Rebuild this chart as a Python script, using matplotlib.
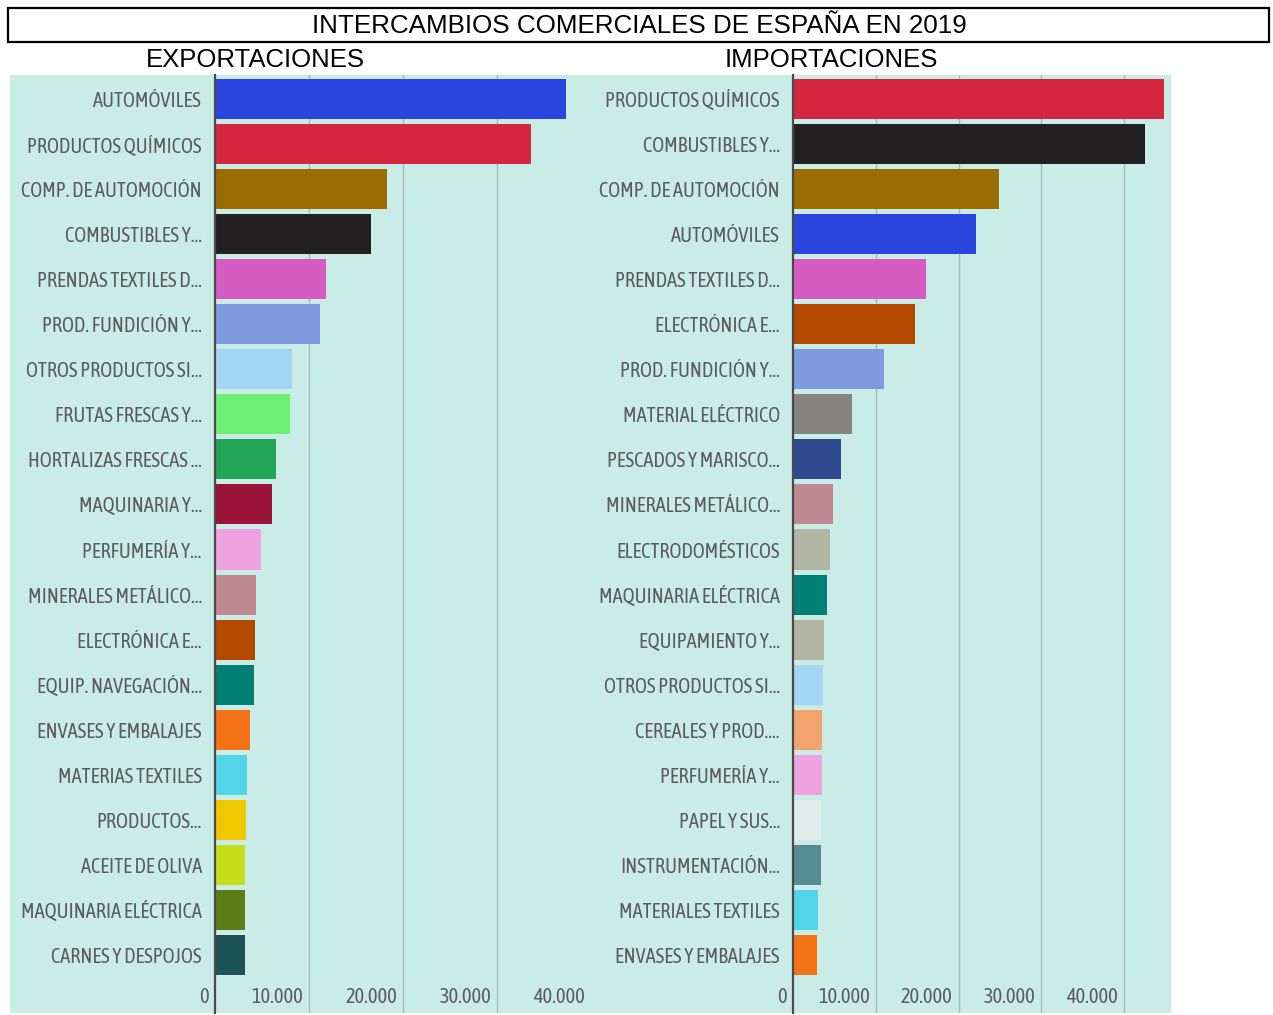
import matplotlib
matplotlib.use("Agg")
import matplotlib.pyplot as plt
from matplotlib.patches import Rectangle
from matplotlib.transforms import offset_copy

# datos (millones de euros)
export_labels = [
    "AUTOMÓVILES", "PRODUCTOS QUÍMICOS", "COMP. DE AUTOMOCIÓN", "COMBUSTIBLES Y...",
    "PRENDAS TEXTILES D...", "PROD. FUNDICIÓN Y...", "OTROS PRODUCTOS SI...",
    "FRUTAS FRESCAS Y...", "HORTALIZAS FRESCAS ...", "MAQUINARIA Y...",
    "PERFUMERÍA Y...", "MINERALES METÁLICO...", "ELECTRÓNICA E...",
    "EQUIP. NAVEGACIÓN...", "ENVASES Y EMBALAJES", "MATERIAS TEXTILES",
    "PRODUCTOS...", "ACEITE DE OLIVA", "MAQUINARIA ELÉCTRICA", "CARNES Y DESPOJOS",
]
export_values = [37310, 33620, 18300, 16550, 11820, 11220, 8230, 7985, 6500, 6076,
                 4846, 4380, 4210, 4140, 3690, 3440, 3290, 3230, 3200, 3150]
export_colors = [
    "#2a44e0", "#d4263e", "#9b6c00", "#222020", "#d55cc0", "#7f9be0", "#a2d6f2",
    "#6cf074", "#1fa555", "#9a1238", "#eea2e0", "#c08890", "#b34a00", "#007f75",
    "#f47216", "#52d5e8", "#f0c800", "#c4df1a", "#5a7d18", "#1d5257",
]

import_labels = [
    "PRODUCTOS QUÍMICOS", "COMBUSTIBLES Y...", "COMP. DE AUTOMOCIÓN", "AUTOMÓVILES",
    "PRENDAS TEXTILES D...", "ELECTRÓNICA E...", "PROD. FUNDICIÓN Y...",
    "MATERIAL ELÉCTRICO", "PESCADOS Y MARISCO...", "MINERALES METÁLICO...",
    "ELECTRODOMÉSTICOS", "MAQUINARIA ELÉCTRICA", "EQUIPAMIENTO Y...",
    "OTROS PRODUCTOS SI...", "CEREALES Y PROD....", "PERFUMERÍA Y...",
    "PAPEL Y SUS...", "INSTRUMENTACIÓN...", "MATERIALES TEXTILES", "ENVASES Y EMBALAJES",
]
import_values = [44800, 42500, 24820, 22120, 16020, 14730, 10980, 7090, 5800, 4830,
                 4430, 4150, 3740, 3670, 3550, 3470, 3430, 3380, 3060, 2860]
import_colors = [
    "#d4263e", "#222020", "#9b6c00", "#2a44e0", "#d55cc0", "#b34a00", "#7f9be0",
    "#868480", "#2e4a8e", "#c08890", "#b2b4a4", "#007f75", "#b2b4a4", "#a2d6f2",
    "#f2a46e", "#eea2e0", "#e2ecea", "#548c92", "#52d5e8", "#f47216",
]

ticks = [10000, 20000, 30000, 40000]

W, H = 1273, 1015
fig = plt.figure(figsize=(W / 100, H / 100), dpi=100)


def px_rect(x0, y0, x1, y1):
    # pixeles (origen arriba-izquierda) -> coords de figura
    return [x0 / W, 1 - y1 / H, (x1 - x0) / W, (y1 - y0) / H]


LABEL_FONT = ["Ubuntu Condensed", "Asap Condensed", "Liberation Sans", "DejaVu Sans"]
TITLE_FONT = ["Liberation Sans", "DejaVu Sans"]
LABEL_SIZE = 14.7

# caja del titulo
fig.patches.append(Rectangle((8 / W, 1 - 42 / H), (1269 - 8) / W, 34 / H,
                             transform=fig.transFigure, fill=False,
                             edgecolor="black", linewidth=1.6))
fig.text(639 / W, 1 - 26 / H, "INTERCAMBIOS COMERCIALES DE ESPAÑA EN 2019",
         ha="center", va="center", fontsize=18.7, family=TITLE_FONT)
fig.text(255 / W, 1 - 60 / H, "EXPORTACIONES", ha="center", va="center",
         fontsize=18.5, family=TITLE_FONT)
fig.text(831 / W, 1 - 60 / H, "IMPORTACIONES", ha="center", va="center",
         fontsize=18.5, family=TITLE_FONT)

# fondo
fig.patches.append(Rectangle((10 / W, 1 - 1013 / H), (1171 - 10) / W, (1013 - 75) / H,
                             transform=fig.transFigure, facecolor="#c9ece7",
                             edgecolor="none", zorder=-5))

TOP, BOTTOM, FIRST, STEP = 75, 1013, 99, 45.05


def panel(x0, x1, xmax, labels, values, colors):
    ax = fig.add_axes(px_rect(x0, TOP, x1, BOTTOM))
    ax.set_facecolor("none")
    n = len(values)
    ax.barh(range(n), values, height=0.89, color=colors, zorder=3)
    ax.set_xlim(0, xmax)
    ax.set_ylim((BOTTOM - FIRST) / STEP, -(FIRST - TOP) / STEP)
    ax.set_yticks(range(n))
    ax.set_yticklabels(labels, family=LABEL_FONT, fontsize=LABEL_SIZE, color="#5c5c5c")
    ax.tick_params(axis="y", length=0, pad=9.5)
    ax.set_xticks(ticks)
    ax.set_xticklabels([])
    ax.tick_params(axis="x", length=0)
    ax.grid(axis="x", color="#a7bcb8", linewidth=1, zorder=1)
    # la rejilla en el borde derecho no se ve en el original
    for t, gl in zip(ticks, ax.get_xgridlines()):
        if t >= xmax:
            gl.set_visible(False)
    for s in ["top", "right", "bottom"]:
        ax.spines[s].set_visible(False)
    ax.spines["left"].set_color("#4a4a4a")
    ax.spines["left"].set_linewidth(1.6)
    ax.spines["left"].set_zorder(4)
    tr = offset_copy(ax.get_xaxis_transform(), fig=fig, x=-6, y=0, units="dots")
    for t in [0] + ticks:
        ax.text(t, (BOTTOM - 997) / (BOTTOM - TOP), f"{t:,}".replace(",", "."),
                transform=tr, ha="right", va="center", family=LABEL_FONT,
                fontsize=LABEL_SIZE, color="#5c5c5c")
    return ax


panel(215, 591, 40000, export_labels, export_values, export_colors)
panel(793, 1171, 45650, import_labels, import_values, import_colors)

fig.savefig("out.png", dpi=100)
